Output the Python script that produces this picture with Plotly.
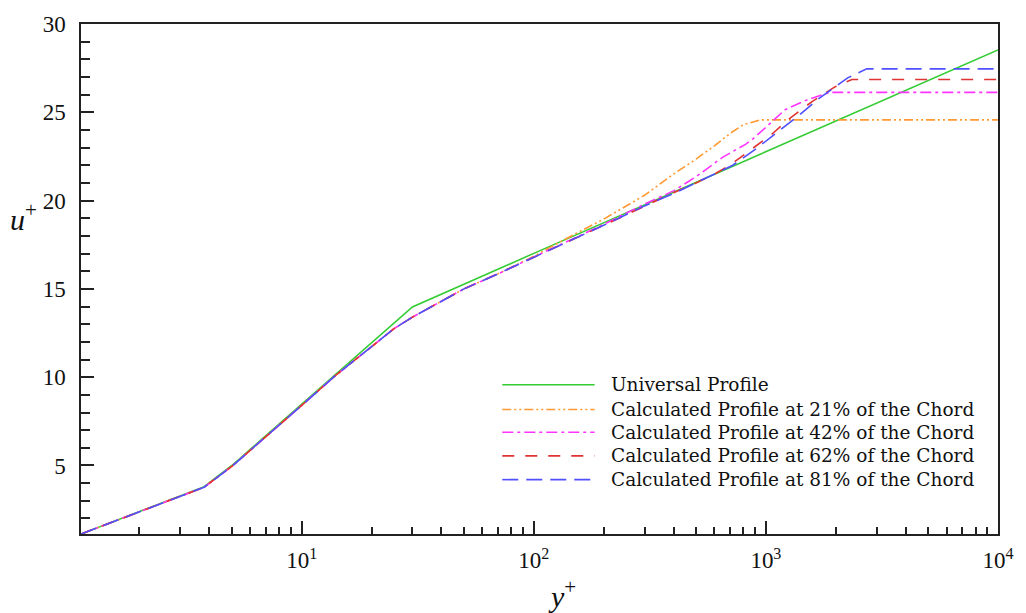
import plotly.graph_objects as go

# ---- data: wall-law velocity profiles (y+ vs u+) ----
universal_yp = [1.12, 3.8, 5, 7, 10, 14, 20, 25, 30, 100, 1000, 10000]
universal_up = [1.12, 3.8, 5.0, 6.68, 8.46, 10.15, 11.93, 13.04, 13.98, 17.01, 22.77, 28.53]

c21_yp = [1.12, 3.8, 5, 7, 10, 14, 20, 25, 30, 40, 50, 70, 100, 150, 200, 300, 400, 500, 600, 700, 800, 950, 10000]
c21_up = [1.12, 3.77, 4.95, 6.6, 8.4, 10.1, 11.7, 12.75, 13.4, 14.3, 15.0, 15.85, 16.85, 18.1, 18.95, 20.3, 21.5, 22.35, 23.1, 23.8, 24.3, 24.57, 24.57]

c42_yp = [1.12, 3.8, 5, 7, 10, 14, 20, 25, 30, 40, 50, 70, 100, 150, 200, 300, 400, 500, 650, 820, 880, 1000, 1210, 1500, 1890, 10000]
c42_up = [1.12, 3.77, 4.95, 6.6, 8.4, 10.1, 11.7, 12.75, 13.4, 14.3, 15.0, 15.85, 16.8, 17.85, 18.65, 19.8, 20.55, 21.35, 22.45, 23.2, 23.5, 24.15, 25.15, 25.7, 26.13, 26.13]

c62_yp = [1.12, 3.8, 5, 7, 10, 14, 20, 25, 30, 40, 50, 70, 100, 150, 200, 300, 400, 500, 600, 700, 860, 1070, 1250, 1580, 1990, 2350, 10000]
c62_up = [1.12, 3.77, 4.95, 6.6, 8.4, 10.1, 11.7, 12.75, 13.4, 14.3, 15.0, 15.85, 16.8, 17.85, 18.6, 19.7, 20.45, 21.0, 21.5, 22.0, 22.85, 23.8, 24.6, 25.6, 26.45, 26.86, 26.86]

c81_yp = [1.12, 3.8, 5, 7, 10, 14, 20, 25, 30, 40, 50, 70, 100, 150, 200, 300, 400, 500, 600, 720, 900, 1130, 1380, 1680, 2250, 2720, 10000]
c81_up = [1.12, 3.77, 4.95, 6.6, 8.4, 10.1, 11.7, 12.75, 13.4, 14.3, 15.0, 15.85, 16.8, 17.85, 18.6, 19.7, 20.4, 21.0, 21.5, 22.0, 22.9, 23.9, 24.8, 25.75, 26.95, 27.46, 27.46]

x_tick_vals = [10, 100, 1000, 10000]
x_tick_text = ["10<sup>1</sup>", "10<sup>2</sup>", "10<sup>3</sup>", "10<sup>4</sup>"]
y_tick_vals = [5, 10, 15, 20, 25, 30]

series = [
    ("Universal Profile", universal_yp, universal_up, "#33cc33", "solid"),
    ("Calculated Profile at 21% of the Chord", c21_yp, c21_up, "#ff9933", "9px,3px,2px,3px,2px,3px"),
    ("Calculated Profile at 42% of the Chord", c42_yp, c42_up, "#ff33ff", "11px,4px,3px,4px"),
    ("Calculated Profile at 62% of the Chord", c62_yp, c62_up, "#e03333", "12px,11px"),
    ("Calculated Profile at 81% of the Chord", c81_yp, c81_up, "#5050ff", "16px,8px"),
]

serif = "Liberation Serif, Times New Roman, serif"
key_font = "DejaVu Serif, serif"

fig = go.Figure()
for name, xs, ys, color, dash in series:
    fig.add_trace(go.Scatter(x=xs, y=ys, mode="lines", name=name, showlegend=False,
                             line=dict(color=color, width=1.6, dash=dash)))

# key drawn inside the plot area: line sample + label per series
key_x0, key_x1, key_text_x = 0.4594, 0.5601, 0.5753
key_y = [0.2926, 0.2442, 0.1996, 0.1531, 0.1066]
for (name, _, _, color, dash), ky in zip(series, key_y):
    fig.add_shape(type="line", xref="paper", yref="paper",
                  x0=key_x0, x1=key_x1, y0=ky, y1=ky,
                  line=dict(color=color, width=1.6, dash=dash))
    fig.add_annotation(text=name, xref="paper", yref="paper",
                       x=key_text_x, y=ky, xanchor="left", yanchor="middle",
                       showarrow=False,
                       font=dict(family=key_font, size=18.5, color="#111"))

minor_x = [m * 10 ** k for k in range(0, 4) for m in range(2, 10)]

fig.update_xaxes(
    type="log", range=[0.0492, 4],
    tickvals=x_tick_vals, ticktext=x_tick_text,
    ticks="inside", ticklen=13, tickwidth=1.5, tickcolor="#222",
    showline=True, linecolor="#222", linewidth=1.5, mirror=True,
    showgrid=False, zeroline=False,
    tickfont=dict(family=serif, size=23, color="#111"),
    ticklabelstandoff=5,
    minor=dict(tickvals=minor_x, ticks="inside", ticklen=7, tickwidth=1.5,
               tickcolor="#222", showgrid=False),
)
fig.update_yaxes(
    range=[1.12, 30],
    tickvals=y_tick_vals,
    ticks="inside", ticklen=13, tickwidth=1.5, tickcolor="#222",
    showline=True, linecolor="#222", linewidth=1.5, mirror=True,
    showgrid=False, zeroline=False,
    tickfont=dict(family=serif, size=23, color="#111"),
    ticklabelstandoff=9,
    minor=dict(dtick=1, ticks="inside", ticklen=9, tickwidth=1.5,
               tickcolor="#222", showgrid=False),
)

fig.add_annotation(text="<i>u</i><sup>+</sup>", xref="paper", yref="paper",
                   x=-0.046, y=0.622, xanchor="right", yanchor="middle",
                   showarrow=False,
                   font=dict(family=serif, size=30, color="#111"))
fig.add_annotation(text="<i>y</i><sup>+</sup>", xref="paper", yref="paper",
                   x=0.524, y=-0.118, yanchor="middle", showarrow=False,
                   font=dict(family=serif, size=30, color="#111"))

fig.update_layout(
    width=1026, height=613,
    margin=dict(l=81, r=22, t=18, b=79),
    paper_bgcolor="white", plot_bgcolor="white",
    showlegend=False,
)

fig.write_html("out.html")
